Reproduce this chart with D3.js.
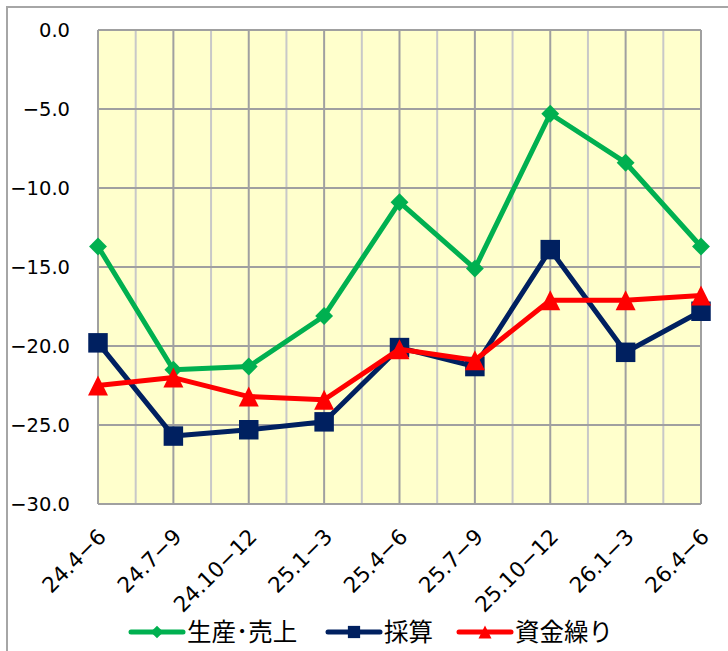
<!DOCTYPE html>
<html>
<head>
<meta charset="utf-8">
<script src="https://cdn.jsdelivr.net/npm/d3@7"></script>
<style>
  body { margin: 0; background: #fff; }
  svg text { font-family: "Noto Sans CJK JP", "Noto Sans", sans-serif; fill: #000; }
  svg .num text { font-family: "DejaVu Sans", sans-serif; }
</style>
</head>
<body>
<div id="chart"></div>
<script>
// quarters on the x axis
var categories = ["24.4−6", "24.7−9", "24.10−12", "25.1−3", "25.4−6", "25.7−9", "25.10−12", "26.1−3", "26.4−6"];
// series values
var seisanUriage = [-13.7, -21.5, -21.3, -18.1, -10.9, -15.1, -5.3, -8.4, -13.7];
var saisan = [-19.8, -25.7, -25.3, -24.8, -20.1, -21.3, -13.9, -20.4, -17.8];
var shikinKuri = [-22.5, -22.0, -23.2, -23.4, -20.2, -20.9, -17.1, -17.1, -16.8];
var yTicks = [0, -5, -10, -15, -20, -25, -30];
var seriesNames = ["生産･売上", "採算", "資金繰り"];

var width = 728, height = 651;
var plot = { left: 98, right: 701, top: 30, bottom: 504 };

var svg = d3.select("#chart").append("svg")
  .attr("width", width)
  .attr("height", height);

// outer chart frame (runs off the right/bottom edge)
svg.append("rect")
  .attr("x", 7).attr("y", 7)
  .attr("width", width).attr("height", height)
  .attr("fill", "none")
  .attr("stroke", "#a6a6a6")
  .attr("stroke-width", 2);

var x = d3.scalePoint().domain(categories).range([plot.left, plot.right]);
var y = d3.scaleLinear().domain([-30, 0]).range([plot.bottom, plot.top]);

// plot background
svg.append("rect")
  .attr("x", plot.left).attr("y", plot.top)
  .attr("width", plot.right - plot.left).attr("height", plot.bottom - plot.top)
  .attr("fill", "#ffffcc");

// light vertical lines half way between categories
var step = x.step();
svg.append("g").selectAll("line")
  .data(categories.slice(1))
  .enter().append("line")
  .attr("x1", d => x(d) - step / 2).attr("x2", d => x(d) - step / 2)
  .attr("y1", plot.top).attr("y2", plot.bottom)
  .attr("stroke", "#c8c8c8").attr("stroke-width", 2);

// darker vertical lines at categories
svg.append("g").selectAll("line")
  .data(categories)
  .enter().append("line")
  .attr("x1", d => x(d)).attr("x2", d => x(d))
  .attr("y1", plot.top).attr("y2", plot.bottom)
  .attr("stroke", "#a0a0a0").attr("stroke-width", 2);

// horizontal gridlines
svg.append("g").selectAll("line")
  .data(yTicks)
  .enter().append("line")
  .attr("x1", plot.left).attr("x2", plot.right)
  .attr("y1", d => y(d)).attr("y2", d => y(d))
  .attr("stroke", "#a0a0a0").attr("stroke-width", 2);

// y axis labels
var yAxis = d3.axisLeft(y).tickValues(yTicks).tickFormat(d3.format(".1f")).tickSize(0).tickPadding(28);
svg.append("g")
  .attr("class", "num")
  .attr("transform", "translate(" + plot.left + ",0)")
  .call(yAxis)
  .call(g => g.select(".domain").remove())
  .selectAll("text")
  .style("font-size", "19.5px");

// x axis labels, rotated
var xAxis = d3.axisBottom(x).tickSize(0).tickPadding(0);
svg.append("g")
  .attr("class", "num")
  .attr("transform", "translate(0," + plot.bottom + ")")
  .call(xAxis)
  .call(g => g.select(".domain").remove())
  .selectAll("text")
  .style("font-size", "21.5px")
  .attr("text-anchor", "end")
  .attr("dy", null)
  .attr("y", 0)
  .attr("transform", "translate(9,34) rotate(-45)");

// custom triangle (width == height) like Excel's marker
var triangle = {
  draw: function (ctx, size) {
    var h = Math.sqrt(size);
    ctx.moveTo(0, -h / 2);
    ctx.lineTo(h / 2, h / 2);
    ctx.lineTo(-h / 2, h / 2);
    ctx.closePath();
  }
};

var series = [
  { name: seriesNames[0], values: seisanUriage, color: "#00b050", symbol: d3.symbolSquare, size: 160, rotate: 45, legendSize: 80 },
  { name: seriesNames[1], values: saisan, color: "#002060", symbol: d3.symbolSquare, size: 380, rotate: 0, legendSize: 150 },
  { name: seriesNames[2], values: shikinKuri, color: "#ff0000", symbol: triangle, size: 400, rotate: 0, legendSize: 170 }
];

var line = d3.line()
  .x((d, i) => x(categories[i]))
  .y(d => y(d));

series.forEach(function (s) {
  var g = svg.append("g");
  g.append("path")
    .datum(s.values)
    .attr("d", line)
    .attr("fill", "none")
    .attr("stroke", s.color)
    .attr("stroke-width", 5)
    .attr("stroke-linejoin", "round");
  g.selectAll("path.marker")
    .data(s.values)
    .enter().append("path")
    .attr("class", "marker")
    .attr("d", d3.symbol().type(s.symbol).size(s.size))
    .attr("transform", (d, i) => "translate(" + x(categories[i]) + "," + y(d) + ") rotate(" + s.rotate + ")")
    .attr("fill", s.color);
});

// legend
var legendX = [131, 328, 459];
var legendY = 632;
var legend = svg.append("g").selectAll("g")
  .data(series)
  .enter().append("g")
  .attr("transform", (d, i) => "translate(" + legendX[i] + "," + legendY + ")");

legend.append("line")
  .attr("x1", 0).attr("x2", 52)
  .attr("stroke", d => d.color)
  .attr("stroke-width", 5)
  .attr("stroke-linecap", "round");

legend.append("path")
  .attr("d", d => d3.symbol().type(d.symbol).size(d.legendSize)())
  .attr("transform", d => "translate(26,0) rotate(" + d.rotate + ")")
  .attr("fill", d => d.color);

legend.append("text")
  .attr("x", 56)
  .attr("y", 0)
  .attr("dy", "0.38em")
  .style("font-size", "24.5px")
  .text(d => d.name);
</script>
</body>
</html>
